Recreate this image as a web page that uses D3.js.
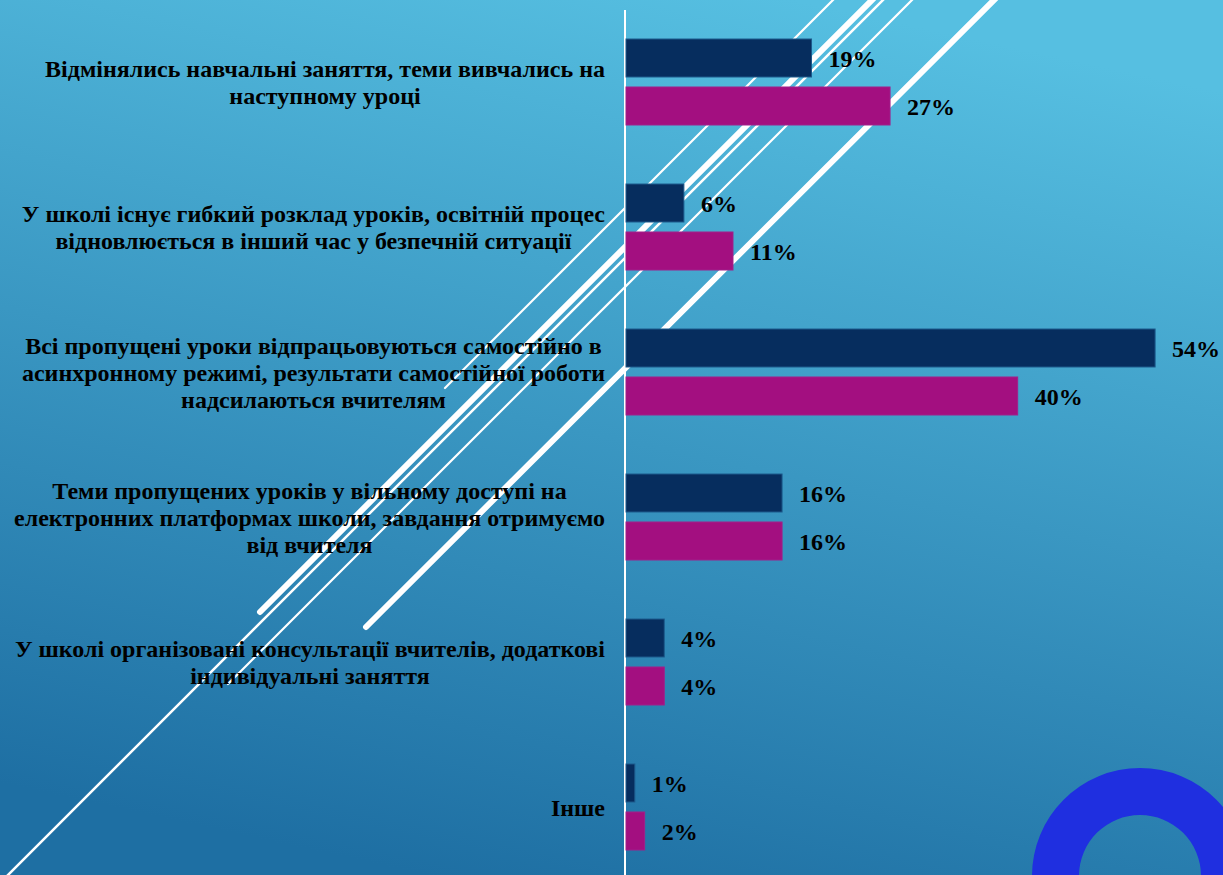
<!DOCTYPE html>
<html lang="uk">
<head>
<meta charset="utf-8">
<title>Пропущені уроки</title>
<script src="https://cdn.jsdelivr.net/npm/d3@7"></script>
<style>
  html, body { margin: 0; padding: 0; background: #2a86b8; }
  svg { display: block; }
  .lbl { font-family: "Liberation Serif", "Times New Roman", serif; font-weight: bold; fill: #000; }
</style>
</head>
<body>
<script>
// categories (line breaks as in the original)
var categories = [
  ["Відмінялись навчальні заняття, теми вивчались на", "наступному уроці"],
  ["У школі існує гибкий розклад уроків, освітній процес", "відновлюється в інший час у безпечній ситуації"],
  ["Всі пропущені уроки відпрацьовуються самостійно в", "асинхронному режимі, результати самостійної роботи", "надсилаються вчителям"],
  ["Теми пропущених уроків у вільному доступі на", "електронних платформах школи, завдання отримуємо", "від вчителя"],
  ["У школі організовані консультації вчителів, додаткові", "індивідуальні заняття"],
  ["Інше"]
];
var seriesA = [19, 6, 54, 16, 4, 1];   // navy
var seriesB = [27, 11, 40, 16, 4, 2];  // magenta

var W = 1223, H = 875;
var x0 = 625;
var fontSize = 24;
var lineH = 27;

var svg = d3.select("body").append("svg")
  .attr("width", W)
  .attr("height", H);

// background
var defs = svg.append("defs");
var grad = defs.append("linearGradient")
  .attr("id", "bg")
  .attr("x1", "65%").attr("y1", "0%")
  .attr("x2", "35%").attr("y2", "100%");
grad.append("stop").attr("offset", "0%").attr("stop-color", "#56bfe1");
grad.append("stop").attr("offset", "100%").attr("stop-color", "#1e6fa3");
svg.append("rect").attr("width", W).attr("height", H).attr("fill", "url(#bg)");

// decorative diagonal lines
var deco = [
  [1000, -6, 366, 627, 6],
  [878, -6, 260, 612, 6],
  [839, -6, 445, 388, 2.2],
  [889, -6, 2, 881, 2.5],
  [918, -6, 228, 684, 2.2]
];
svg.append("g").selectAll("line")
  .data(deco)
  .enter()
  .append("line")
  .attr("x1", function(d){ return d[0]; })
  .attr("y1", function(d){ return d[1]; })
  .attr("x2", function(d){ return d[2]; })
  .attr("y2", function(d){ return d[3]; })
  .attr("stroke", "#fff")
  .attr("stroke-width", function(d){ return d[4]; })
  .attr("stroke-linecap", "round");

// ring bottom right
var arc = d3.arc().innerRadius(61).outerRadius(108).startAngle(0).endAngle(2 * Math.PI);
svg.append("path")
  .attr("d", arc())
  .attr("transform", "translate(1140,876)")
  .attr("fill", "#1f2fe0");

// scales
var xScale = d3.scaleLinear()
  .domain([0, 60])
  .range([x0, x0 + 589]);

var idx = d3.range(categories.length);
var yScale = d3.scaleBand()
  .domain(idx)
  .range([9.5, 879.5])
  .paddingInner(0.407)
  .paddingOuter(0.2035);

var ySub = d3.scaleBand()
  .domain(["A", "B"])
  .range([0, yScale.bandwidth()])
  .paddingInner(0.2083);

var series = [
  { key: "A", values: seriesA, color: "#062d5e", stroke: "#1d5a8c" },
  { key: "B", values: seriesB, color: "#a30f80", stroke: "#a0208a" }
];

// axis line
svg.append("line")
  .attr("x1", x0).attr("x2", x0)
  .attr("y1", 10).attr("y2", H)
  .attr("stroke", "#fff")
  .attr("stroke-width", 2);

var groups = svg.selectAll(".grp")
  .data(idx)
  .enter()
  .append("g")
  .attr("class", "grp")
  .attr("transform", function(i){ return "translate(0," + yScale(i) + ")"; });

series.forEach(function(s){
  groups.append("rect")
    .attr("x", xScale(0) + 1)
    .attr("y", ySub(s.key))
    .attr("width", function(i){ return xScale(s.values[i]) - xScale(0) - 1; })
    .attr("height", ySub.bandwidth())
    .attr("fill", s.color)
    .attr("stroke", s.stroke)
    .attr("stroke-width", 1);

  groups.append("text")
    .attr("class", "lbl")
    .attr("x", function(i){ return xScale(s.values[i]) + 17; })
    .attr("y", ySub(s.key) + ySub.bandwidth() / 2)
    .attr("dy", "0.38em")
    .style("font-size", fontSize + "px")
    .text(function(i){ return s.values[i] + "%"; });
});

// category labels: block right-aligned at 605, lines centered inside it
var right = 605;
groups.each(function(i){
  var g = d3.select(this);
  var lines = categories[i];
  var cy = yScale.bandwidth() / 2;
  var t = g.append("text")
    .attr("class", "lbl")
    .style("font-size", fontSize + "px")
    .attr("text-anchor", "middle");
  var spans = t.selectAll("tspan")
    .data(lines)
    .enter()
    .append("tspan")
    .attr("y", function(d, k){ return cy + (k - (lines.length - 1) / 2) * lineH; })
    .attr("dy", "0.36em")
    .text(function(d){ return d; });
  var maxW = 0;
  spans.each(function(){ maxW = Math.max(maxW, this.getComputedTextLength()); });
  spans.attr("x", right - maxW / 2);
});
</script>
</body>
</html>
